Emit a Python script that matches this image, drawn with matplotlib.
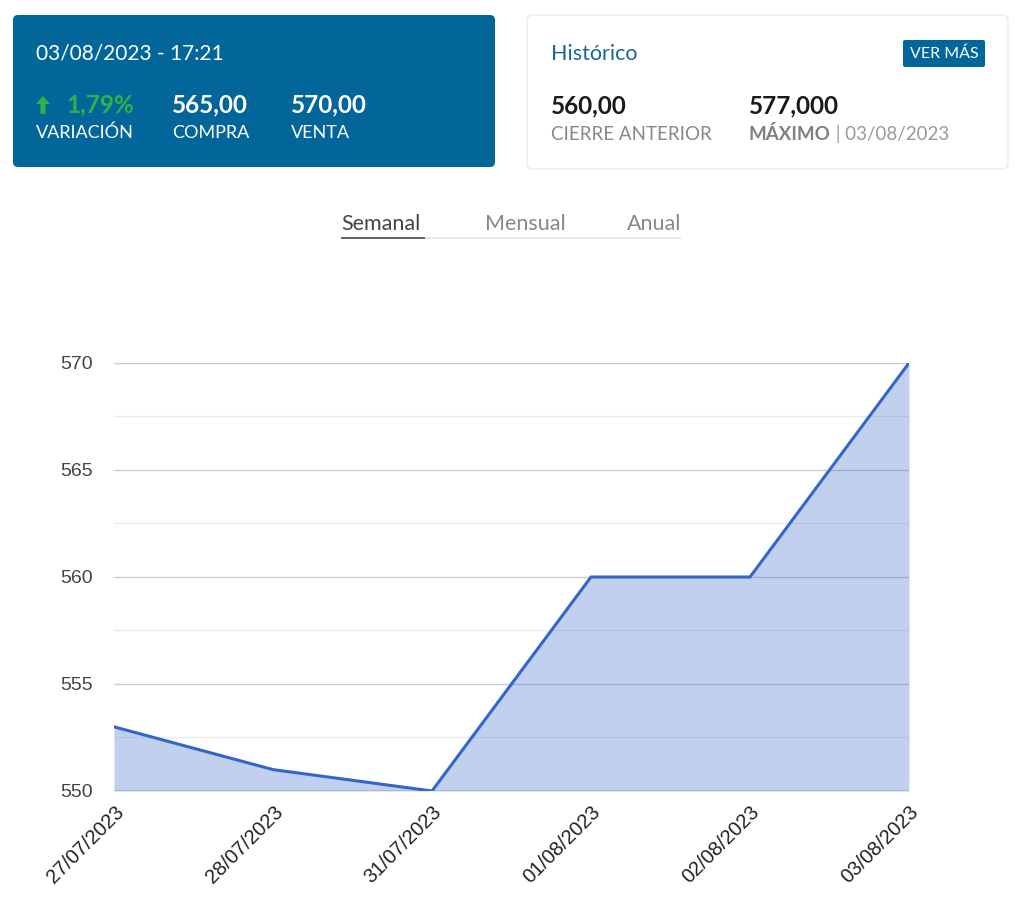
import matplotlib.pyplot as plt
from matplotlib.patches import FancyBboxPatch, Rectangle, FancyArrow
import numpy as np

# chart data
dates = ['27/07/2023', '28/07/2023', '31/07/2023', '01/08/2023', '02/08/2023', '03/08/2023']
prices = [553, 551, 550, 560, 560, 570]
y_ticks = [550, 555, 560, 565, 570]

# header card values
stamp = '03/08/2023 - 17:21'
variation = '1,79%'
buy = '565,00'
sell = '570,00'
prev_close = '560,00'
max_value = '577,000'
max_date = '03/08/2023'
tabs = ['Semanal', 'Mensual', 'Anual']

W, H = 1023, 899
BLUE = '#02669b'
GREEN = '#2db34a'
LINE = '#3366cc'
FONT = 'Lato'

fig = plt.figure(figsize=(W / 100, H / 100), dpi=100)

# overlay in pixel coordinates for the header
bg = fig.add_axes([0, 0, 1, 1])
bg.set_xlim(0, W)
bg.set_ylim(H, 0)
bg.axis('off')

bg.add_patch(FancyBboxPatch((13, 15), 482, 152, boxstyle='round,pad=0,rounding_size=5',
                            fc=BLUE, ec='none'))
bg.add_patch(FancyBboxPatch((527, 15), 481, 154, boxstyle='round,pad=0,rounding_size=6',
                            fc='white', ec='#ececec', lw=1))
bg.add_patch(FancyBboxPatch((903, 40), 82, 27, boxstyle='round,pad=0,rounding_size=2',
                            fc=BLUE, ec='none'))

bg.text(36, 53, stamp, color='white', fontsize=15, family=FONT, va='center')
# up arrow next to variation
bg.add_patch(FancyArrow(43, 114, 0, -18, width=5, head_width=14, head_length=8,
                        length_includes_head=True, fc=GREEN, ec='none'))
bg.text(66, 105, variation, color=GREEN, fontsize=17.5, family=FONT, fontweight='bold', va='center')
bg.text(172, 105, buy, color='white', fontsize=17.5, family=FONT, fontweight='bold', va='center')
bg.text(291, 105, sell, color='white', fontsize=17.5, family=FONT, fontweight='bold', va='center')
bg.text(36, 133, 'VARIACIÓN', color='white', fontsize=13, family=FONT, va='center')
bg.text(172, 133, 'COMPRA', color='white', fontsize=13, family=FONT, va='center')
bg.text(291, 133, 'VENTA', color='white', fontsize=13, family=FONT, va='center')

bg.text(551, 54, 'Histórico', color='#17689a', fontsize=15.5, family=FONT, va='center')
bg.text(944, 54, 'VER MÁS', color='white', fontsize=11.5, family=FONT, va='center', ha='center')
bg.text(551, 106, prev_close, color='#1a1a1a', fontsize=17.5, family=FONT, fontweight='bold', va='center')
bg.text(749, 106, max_value, color='#1a1a1a', fontsize=17.5, family=FONT, fontweight='bold', va='center')
bg.text(551, 134, 'CIERRE ANTERIOR', color='#888888', fontsize=13.5, family=FONT, va='center')
t = bg.text(749, 134, 'MÁXIMO', color='#808080', fontsize=13.5, family=FONT, fontweight='bold', va='center')
bg.annotate(' | ' + max_date, xycoords=t, xy=(1, 0.5), va='center', color='#999999',
            fontsize=13.5, family=FONT)

# tabs
tab_x = [341, 485, 627]
for name, x in zip(tabs, tab_x):
    bg.text(x, 224, name, color='#444444' if name == 'Semanal' else '#888888',
            fontsize=15.5, family=FONT, va='center')
bg.add_patch(Rectangle((341, 237), 340, 1.5, fc='#e6e6e6', ec='none'))
bg.add_patch(Rectangle((341, 236.5), 84, 2.5, fc='#666666', ec='none'))

# chart
ax = fig.add_axes([114 / W, 1 - 791 / H, 795 / W, 428 / H])
x = np.arange(len(dates))
ax.fill_between(x, prices, 550, color=LINE, alpha=0.3, lw=0, zorder=2)
ax.plot(x, prices, color=LINE, lw=2.2, zorder=3, solid_joinstyle='miter')
ax.set_xlim(0, len(dates) - 1)
ax.set_ylim(550, 570)
ax.set_yticks(y_ticks)
ax.set_yticks(np.arange(552.5, 570, 5), minor=True)
ax.grid(True, which='major', axis='y', color='#cccccc', lw=1, zorder=1)
ax.grid(True, which='minor', axis='y', color='#ebebeb', lw=1, zorder=1)
ax.axhline(550, color='#a9b6d6', lw=1.2, zorder=2.5)
ax.set_xticks(x)
ax.set_xticklabels(dates, rotation=45, ha='right', va='top', rotation_mode='anchor',
                   fontsize=14.5, family='Liberation Sans', color='#222222')
for lab in ax.get_yticklabels():
    lab.set_fontsize(14)
    lab.set_family('Liberation Sans')
    lab.set_color('#444444')
ax.tick_params(axis='both', which='both', length=0)
ax.tick_params(axis='y', pad=15)
ax.tick_params(axis='x', pad=8)
for s in ax.spines.values():
    s.set_visible(False)
ax.set_facecolor('none')

fig.savefig('out.png', dpi=100)
